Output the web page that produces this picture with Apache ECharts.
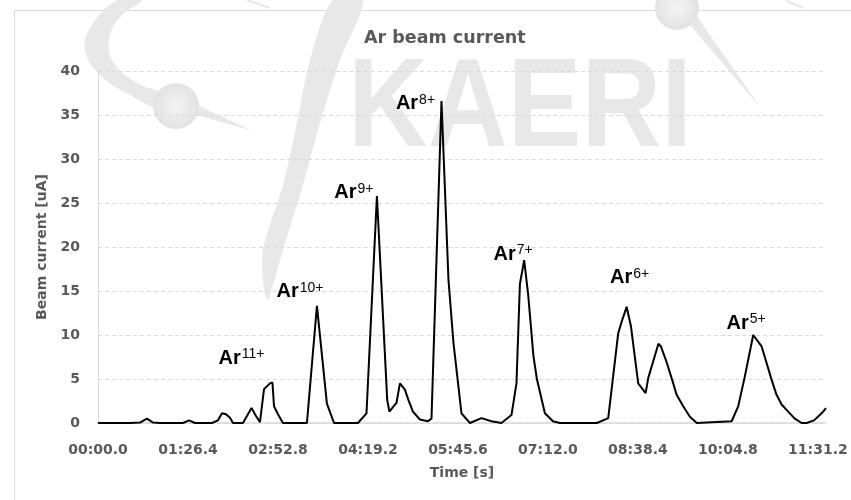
<!DOCTYPE html>
<html>
<head>
<meta charset="utf-8">
<script src="https://cdn.jsdelivr.net/npm/echarts@6/dist/echarts.min.js"></script>
<style>html,body{margin:0;padding:0;background:#fff;}#c{width:851px;height:500px;}</style>
</head>
<body>
<div id="c"></div>
<script>
// ---- data ----
const xTickLabels = ['00:00.0','01:26.4','02:52.8','04:19.2','05:45.6','07:12.0','08:38.4','10:04.8','11:31.2'];
const yTickValues = [0,5,10,15,20,25,30,35,40];
const timeSec = [0,30.7,40.3,47.0,52.8,59.5,81.6,87.4,93.1,109.4,115.2,119.0,122.9,126.7,129.6,139.2,143.0,147.4,151.7,155.5,159.4,165.1,167.5,169.0,172.8,177.6,200.6,210.2,219.8,226.6,249.6,257.8,267.8,277.7,279.8,283.2,286.6,289.9,294.7,298.1,302.4,309.1,316.8,320.2,329.8,336.5,341.3,349.0,357.1,368.2,377.8,387.4,397.0,401.8,405.1,409.2,413.1,418.1,421.4,429.1,436.8,443.5,479.0,489.9,499.5,502.8,507.6,511.7,518.7,525.8,528.3,538.1,540.5,546.0,552.3,555.6,561.9,568.3,575.0,608.4,614.7,621.1,629.1,637.2,646.8,651.5,656.4,662.7,669.0,675.6,680.4,687.5,694.8,699.0];
const beamCurrent = [0,0,0.05,0.5,0.05,0,0,0.3,0,0,0.3,1.1,1.0,0.6,0,0,0.8,1.7,0.8,0.1,3.85,4.5,4.6,1.9,1.0,0,0,13.3,2.2,0,0,1.1,25.8,2.6,1.3,1.8,2.3,4.5,3.8,2.6,1.3,0.4,0.2,0.5,36.6,16.3,9.1,1.1,0,0.55,0.2,0,0.9,4.5,15.8,18.5,14.5,7.6,5.0,1.1,0.2,0,0,0.55,10.2,11.5,13.2,11.0,4.5,3.4,5.1,9.0,8.7,6.9,4.5,3.2,1.9,0.7,0,0.2,1.9,5.3,10.0,8.7,4.9,3.2,2.1,1.3,0.5,0,0,0.3,1.1,1.7];
const ionCharges = ['11+','10+','9+','8+','7+','6+','5+'];
const ionPeakTime = [167.5,210.2,267.8,329.8,409.2,507.6,629.1];

// ---- styling / placement (not data) ----
const ionLabelOffsets = [[-31,-24],[-17,-14],[-23,-3],[-26,3],[-11,-6],[3,-29],[-7,-12]];
const gray = '#595959';
const lineGray = '#d9d9d9';
const wm = '#e8e8e8';

const tickStep = 86.4;
const ionMarks = ionCharges.map((q, i) => {
  const idx = timeSec.indexOf(ionPeakTime[i]);
  return {
    coord: [timeSec[idx], beamCurrent[idx]],
    label: { formatter: '{a|Ar}{s|' + q + '}', offset: ionLabelOffsets[i] }
  };
});

const ballFill = { type: 'radial', x: 0.5, y: 0.5, r: 0.5, colorStops: [{offset: 0, color: '#f4f4f4'}, {offset: 1, color: '#e2e2e2'}] };

const chart = echarts.init(document.getElementById('c'), null, {renderer: 'canvas'});
chart.setOption({
  backgroundColor: '#fff',
  animation: false,
  title: {
    text: 'Ar beam current',
    left: 359, top: 24,
    textStyle: { fontFamily: 'DejaVu Sans', fontWeight: 'bold', fontSize: 17.5, color: gray }
  },
  graphic: [
    { type: 'rect', z: -20, shape: { x: 14.5, y: 10.5, width: 850, height: 500 }, style: { fill: 'none', stroke: lineGray, lineWidth: 1 } },
    { type: 'text', z: -10, x: 520, y: 111, scaleX: 0.87,
      style: { text: 'KAERI', font: 'bold 127px "Liberation Sans"', fill: wm, align: 'center', verticalAlign: 'middle' } },
    { type: 'polygon', z: -10, shape: { smooth: 0.4, points: [[118,0],[92,25],[85,50],[100,75],[130,95],[165,110],[172,98],[135,82],[112,60],[110,35],[122,15],[142,0]] }, style: { fill: wm } },
    { type: 'polygon', z: -10, shape: { points: [[190,102],[253,131],[190,113]] }, style: { fill: wm } },
    { type: 'circle', z: -9, shape: { cx: 176, cy: 106, r: 23 }, style: { fill: ballFill } },
    { type: 'polygon', z: -10, shape: { smooth: 0.3, points: [[333,0],[310,60],[297,123],[283,185],[263,250],[264,290],[268,300],[272,288],[283,250],[303,185],[320,123],[340,60],[363,0]] }, style: { fill: wm } },
    { type: 'polygon', z: -10, shape: { points: [[684,18],[760,107],[694,12]] }, style: { fill: wm } },
    { type: 'circle', z: -9, shape: { cx: 677, cy: 8, r: 22 }, style: { fill: ballFill } },
    { type: 'line', z: -10, shape: { x1: 247, y1: 0, x2: 270, y2: 8 }, style: { stroke: wm, lineWidth: 2 } },
    { type: 'line', z: -10, shape: { x1: 785, y1: 0, x2: 803, y2: 8 }, style: { stroke: wm, lineWidth: 2 } }
  ],
  grid: { left: 98, right: 25, top: 71, bottom: 77, containLabel: false },
  xAxis: {
    type: 'value', min: 0, max: 699, interval: tickStep,
    name: 'Time [s]', nameLocation: 'middle', nameGap: 43,
    nameTextStyle: { fontFamily: 'DejaVu Sans', fontWeight: 'bold', fontSize: 14, color: gray },
    axisLine: { show: true, lineStyle: { color: lineGray, width: 1.5 } },
    axisTick: { show: false },
    splitLine: { show: false },
    axisLabel: {
      showMaxLabel: false, margin: 20,
      fontFamily: 'DejaVu Sans', fontWeight: 'bold', fontSize: 14, color: gray,
      formatter: v => { const i = Math.round(v / tickStep); return (Math.abs(v - i * tickStep) < 0.01 && i < xTickLabels.length) ? xTickLabels[i] : ''; }
    }
  },
  yAxis: {
    type: 'value', min: yTickValues[0], max: yTickValues[yTickValues.length - 1], interval: yTickValues[1] - yTickValues[0],
    name: 'Beam current [uA]', nameLocation: 'middle', nameGap: 44,
    nameTextStyle: { fontFamily: 'DejaVu Sans', fontWeight: 'bold', fontSize: 14, color: gray },
    axisLine: { show: true, lineStyle: { color: lineGray, width: 1 } },
    axisTick: { show: false },
    splitLine: { show: true, lineStyle: { color: lineGray, type: [4, 3], width: 1 } },
    axisLabel: { margin: 18, fontFamily: 'DejaVu Sans', fontWeight: 'bold', fontSize: 14, color: gray }
  },
  series: [{
    type: 'line',
    data: timeSec.map((t, i) => [t, beamCurrent[i]]),
    showSymbol: false, symbol: 'none',
    lineStyle: { color: '#000', width: 2 },
    z: 5,
    markPoint: {
      symbol: 'circle', symbolSize: 0,
      label: {
        show: true, position: 'inside',
        rich: {
          a: { fontFamily: 'Liberation Sans', fontWeight: 'bold', fontSize: 20, color: '#000', lineHeight: 22 },
          s: { fontFamily: 'Liberation Sans', fontSize: 14, color: '#000', verticalAlign: 'top', lineHeight: 14, padding: [0, 0, 0, 1] }
        }
      },
      data: ionMarks
    }
  }]
});
</script>
</body>
</html>
